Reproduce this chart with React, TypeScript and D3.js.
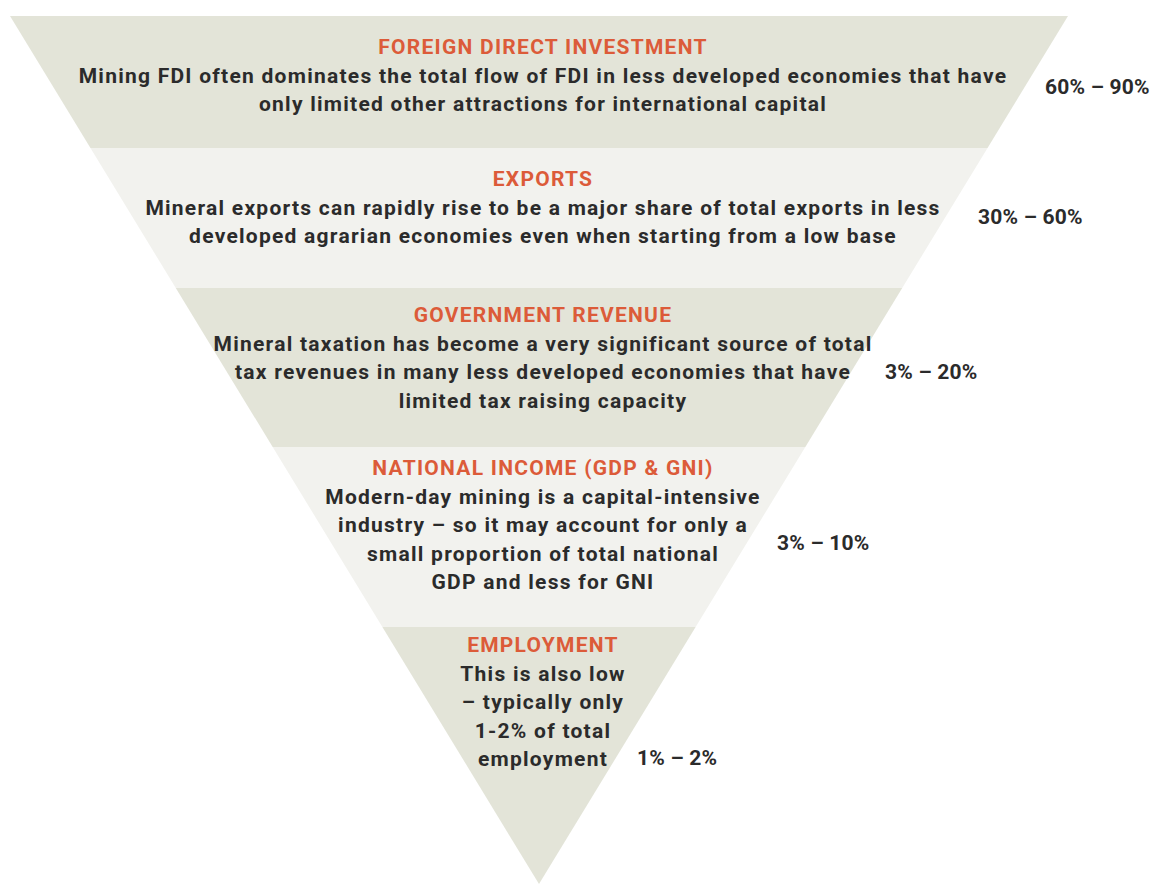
import React from "react";
import * as d3 from "d3";

const titles = [
  "FOREIGN DIRECT INVESTMENT",
  "EXPORTS",
  "GOVERNMENT REVENUE",
  "NATIONAL INCOME (GDP & GNI)",
  "EMPLOYMENT",
];
const descriptions: string[][] = [
  [
    "Mining FDI often dominates the total flow of FDI in less developed economies that have",
    "only limited other attractions for international capital",
  ],
  [
    "Mineral exports can rapidly rise to be a major share of total exports in less",
    "developed agrarian economies even when starting from a low base",
  ],
  [
    "Mineral taxation has become a very significant source of total",
    "tax revenues in many less developed economies that have",
    "limited tax raising capacity",
  ],
  [
    "Modern-day mining is a capital-intensive",
    "industry \u2013 so it may account for only a",
    "small proportion of total national",
    "GDP and less for GNI",
  ],
  [
    "This is also low",
    "\u2013 typically only",
    "1-2% of total",
    "employment",
  ],
];
const ranges = ["60% \u2013 90%", "30% \u2013 60%", "3% \u2013 20%", "3% \u2013 10%", "1% \u2013 2%"];

// layout (pixels)
const bandEdges = [16, 148, 288, 447, 627, 884];
const titleBaselines = [54, 186, 322, 475, 652];
const rangeBaselines = [94, 224, 379, 550, 765];
const rangeX = [1045, 978, 885, 777, 637];

const W = 1150;
const H = 884;
const TOP = 16;
const APEX = 884;
const CX = 539;
const HALF = 529;
const TEXT_CX = 543;
const LINE_H = 28.6;

const DARK = "#e3e4d8";
const LIGHT = "#f2f2ee";
const ORANGE = "#dc5b39";
const INK = "#2b2b2b";
const FONT = "Roboto, 'Open Sans', sans-serif";
const FS = 21;
const LS = 1.25;

export default function App() {
  // half-width of the funnel as a function of y
  const half = d3.scaleLinear().domain([TOP, APEX]).range([HALF, 0]);
  const bands = d3.range(bandEdges.length - 1).map((i) => {
    const y0 = bandEdges[i];
    const y1 = bandEdges[i + 1];
    const pts: [number, number][] = [
      [CX - half(y0), y0],
      [CX + half(y0), y0],
      [CX + half(y1), y1],
      [CX - half(y1), y1],
    ];
    return { pts, fill: i % 2 === 0 ? DARK : LIGHT };
  });
  const line = d3.line();
  return (
    <svg
      width={W}
      height={H}
      style={{ position: "absolute", left: 0, top: 0, background: "#fff" }}
    >
      {bands.map((b, i) => (
        <path key={i} d={line([...b.pts, b.pts[0]]) || ""} fill={b.fill} />
      ))}
      {titles.map((t, i) => (
        <g key={t}>
          <text
            x={TEXT_CX}
            y={titleBaselines[i]}
            textAnchor="middle"
            fill={ORANGE}
            fontFamily={FONT}
            fontWeight={700}
            fontSize={FS}
            letterSpacing={LS}
          >
            {t}
          </text>
          {descriptions[i].map((d, j) => (
            <text
              key={j}
              x={TEXT_CX}
              y={titleBaselines[i] + LINE_H * (j + 1)}
              textAnchor="middle"
              fill={INK}
              fontFamily={FONT}
              fontWeight={700}
              fontSize={FS}
              letterSpacing={LS}
            >
              {d}
            </text>
          ))}
          <text
            x={rangeX[i]}
            y={rangeBaselines[i]}
            fill={INK}
            fontFamily={FONT}
            fontWeight={700}
            fontSize={FS}
            letterSpacing={0.2}
          >
            {ranges[i]}
          </text>
        </g>
      ))}
    </svg>
  );
}
